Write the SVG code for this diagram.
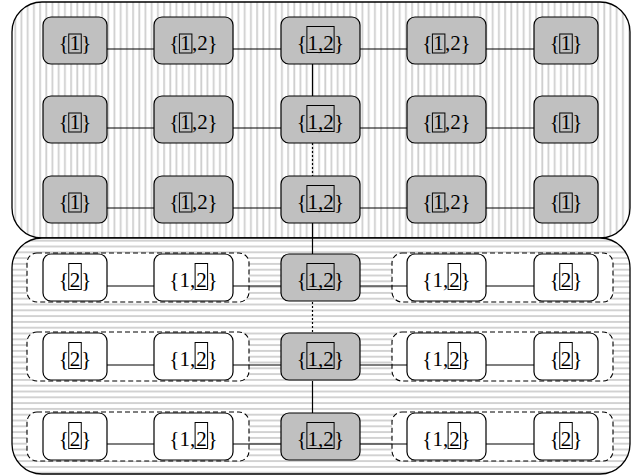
<svg xmlns="http://www.w3.org/2000/svg" width="643" height="476" viewBox="0 0 643 476">
<defs>
<pattern id="vl" patternUnits="userSpaceOnUse" width="6.2" height="10"><rect width="6.2" height="10" fill="#fff"/><rect x="2" width="1.8" height="10" fill="#cfcfcf"/></pattern>
<pattern id="hl" patternUnits="userSpaceOnUse" width="10" height="5.8"><rect width="10" height="5.8" fill="#fff"/><rect y="2" width="10" height="1.8" fill="#cfcfcf"/></pattern>
<style>
.ct{stroke:#000;stroke-width:1.3}
.n{stroke:#000;stroke-width:1.2}
.g{fill:#c0c0c0}
.w{fill:#fff}
.grp{fill:#fff;stroke:#000;stroke-width:1.1;stroke-dasharray:5,3}
.bx{fill:none;stroke:#000;stroke-width:1}
.t{font-family:"Liberation Serif","Times New Roman",serif;font-size:21px;fill:#000}
.m{text-anchor:middle}
.e{text-anchor:end}
.l{stroke:#000;stroke-width:1.2;fill:none}
.d{stroke-dasharray:2,2}
</style>
</defs>
<g id="containers">
<rect class="ct" x="12" y="2" width="618" height="236" rx="30" fill="url(#vl)"/>
<rect class="ct" x="12" y="238" width="618" height="236" rx="30" fill="url(#hl)"/>
</g>
<g id="groups">
<rect class="grp" x="27" y="253" width="222" height="49" rx="10"/>
<rect class="grp" x="392" y="253" width="221" height="49" rx="10"/>
<rect class="grp" x="27" y="332" width="222" height="49" rx="10"/>
<rect class="grp" x="392" y="332" width="221" height="49" rx="10"/>
<rect class="grp" x="27" y="412" width="222" height="49" rx="10"/>
<rect class="grp" x="392" y="412" width="221" height="49" rx="10"/>
</g>
<g id="connectors">
<path class="l" d="M107 49H154M233 49H281M360 49H407M486 49H534"/>
<path class="l" d="M107 128H154M233 128H281M360 128H407M486 128H534"/>
<path class="l" d="M107 208H154M233 208H281M360 208H407M486 208H534"/>
<path class="l" d="M107 286H154M233 286H281M360 286H407M486 286H534"/>
<path class="l" d="M107 365H154M233 365H281M360 365H407M486 365H534"/>
<path class="l" d="M107 444H154M233 444H281M360 444H407M486 444H534"/>
<path class="l" d="M312.5 64V96M312.5 223V254M312.5 381V413"/>
<path class="l d" d="M312.5 143V176M312.5 302V333"/>
</g>
<g id="r1c1"><rect class="n g" x="43" y="17" width="64" height="47" rx="8"/><rect class="bx" x="68.75" y="34" width="12.5" height="19"/><text class="t e" x="68.75" y="49.5">{</text><text class="t m" x="75" y="49.5">1</text><text class="t" x="81.25" y="49.5">}</text></g>
<g id="r1c2"><rect class="n g" x="154" y="17" width="79" height="47" rx="8"/><rect class="bx" x="179.4" y="34" width="12.5" height="19"/><text class="t" x="169.3" y="49.5">{</text><text class="t m" x="185.6" y="49.5">1</text><text class="t" x="191.9" y="49.5">,2</text><text class="t" x="207.6" y="49.5">}</text></g>
<g id="r1c3"><rect class="n g" x="281" y="17" width="79" height="47" rx="8"/><rect class="bx" x="306.9" y="26.5" width="27.2" height="26"/><text class="t" x="296.8" y="49.5">{</text><text class="t m" x="320.5" y="49.5">1,2</text><text class="t" x="334.1" y="49.5">}</text></g>
<g id="r1c4"><rect class="n g" x="407" y="17" width="79" height="47" rx="8"/><rect class="bx" x="432.4" y="34" width="12.5" height="19"/><text class="t" x="422.3" y="49.5">{</text><text class="t m" x="438.6" y="49.5">1</text><text class="t" x="444.9" y="49.5">,2</text><text class="t" x="460.6" y="49.5">}</text></g>
<g id="r1c5"><rect class="n g" x="534" y="17" width="64" height="47" rx="8"/><rect class="bx" x="559.75" y="34" width="12.5" height="19"/><text class="t e" x="559.75" y="49.5">{</text><text class="t m" x="566" y="49.5">1</text><text class="t" x="572.25" y="49.5">}</text></g>

<g id="r2c1"><rect class="n g" x="43" y="96" width="64" height="47" rx="8"/><rect class="bx" x="68.75" y="113" width="12.5" height="19"/><text class="t e" x="68.75" y="128.5">{</text><text class="t m" x="75" y="128.5">1</text><text class="t" x="81.25" y="128.5">}</text></g>
<g id="r2c2"><rect class="n g" x="154" y="96" width="79" height="47" rx="8"/><rect class="bx" x="179.4" y="113" width="12.5" height="19"/><text class="t" x="169.3" y="128.5">{</text><text class="t m" x="185.6" y="128.5">1</text><text class="t" x="191.9" y="128.5">,2</text><text class="t" x="207.6" y="128.5">}</text></g>
<g id="r2c3"><rect class="n g" x="281" y="96" width="79" height="47" rx="8"/><rect class="bx" x="306.9" y="105.5" width="27.2" height="26"/><text class="t" x="296.8" y="128.5">{</text><text class="t m" x="320.5" y="128.5">1,2</text><text class="t" x="334.1" y="128.5">}</text></g>
<g id="r2c4"><rect class="n g" x="407" y="96" width="79" height="47" rx="8"/><rect class="bx" x="432.4" y="113" width="12.5" height="19"/><text class="t" x="422.3" y="128.5">{</text><text class="t m" x="438.6" y="128.5">1</text><text class="t" x="444.9" y="128.5">,2</text><text class="t" x="460.6" y="128.5">}</text></g>
<g id="r2c5"><rect class="n g" x="534" y="96" width="64" height="47" rx="8"/><rect class="bx" x="559.75" y="113" width="12.5" height="19"/><text class="t e" x="559.75" y="128.5">{</text><text class="t m" x="566" y="128.5">1</text><text class="t" x="572.25" y="128.5">}</text></g>

<g id="r3c1"><rect class="n g" x="43" y="176" width="64" height="47" rx="8"/><rect class="bx" x="68.75" y="193" width="12.5" height="19"/><text class="t e" x="68.75" y="208.5">{</text><text class="t m" x="75" y="208.5">1</text><text class="t" x="81.25" y="208.5">}</text></g>
<g id="r3c2"><rect class="n g" x="154" y="176" width="79" height="47" rx="8"/><rect class="bx" x="179.4" y="193" width="12.5" height="19"/><text class="t" x="169.3" y="208.5">{</text><text class="t m" x="185.6" y="208.5">1</text><text class="t" x="191.9" y="208.5">,2</text><text class="t" x="207.6" y="208.5">}</text></g>
<g id="r3c3"><rect class="n g" x="281" y="176" width="79" height="47" rx="8"/><rect class="bx" x="306.9" y="185.5" width="27.2" height="26"/><text class="t" x="296.8" y="208.5">{</text><text class="t m" x="320.5" y="208.5">1,2</text><text class="t" x="334.1" y="208.5">}</text></g>
<g id="r3c4"><rect class="n g" x="407" y="176" width="79" height="47" rx="8"/><rect class="bx" x="432.4" y="193" width="12.5" height="19"/><text class="t" x="422.3" y="208.5">{</text><text class="t m" x="438.6" y="208.5">1</text><text class="t" x="444.9" y="208.5">,2</text><text class="t" x="460.6" y="208.5">}</text></g>
<g id="r3c5"><rect class="n g" x="534" y="176" width="64" height="47" rx="8"/><rect class="bx" x="559.75" y="193" width="12.5" height="19"/><text class="t e" x="559.75" y="208.5">{</text><text class="t m" x="566" y="208.5">1</text><text class="t" x="572.25" y="208.5">}</text></g>

<g id="r4c1"><rect class="n w" x="43" y="254" width="64" height="47" rx="8"/><rect class="bx" x="68.75" y="263.5" width="12.5" height="26"/><text class="t e" x="68.75" y="286.5">{</text><text class="t m" x="75" y="286.5">2</text><text class="t" x="81.25" y="286.5">}</text></g>
<g id="r4c2"><rect class="n w" x="154" y="254" width="79" height="47" rx="8"/><rect class="bx" x="195.1" y="263.5" width="12.5" height="26"/><text class="t" x="169.3" y="286.5">{1,</text><text class="t m" x="201.4" y="286.5">2</text><text class="t" x="207.6" y="286.5">}</text></g>
<g id="r4c3"><rect class="n g" x="281" y="254" width="79" height="47" rx="8"/><rect class="bx" x="306.9" y="263.5" width="27.2" height="26"/><text class="t" x="296.8" y="286.5">{</text><text class="t m" x="320.5" y="286.5">1,2</text><text class="t" x="334.1" y="286.5">}</text></g>
<g id="r4c4"><rect class="n w" x="407" y="254" width="79" height="47" rx="8"/><rect class="bx" x="448.1" y="263.5" width="12.5" height="26"/><text class="t" x="422.3" y="286.5">{1,</text><text class="t m" x="454.4" y="286.5">2</text><text class="t" x="460.6" y="286.5">}</text></g>
<g id="r4c5"><rect class="n w" x="534" y="254" width="64" height="47" rx="8"/><rect class="bx" x="559.75" y="263.5" width="12.5" height="26"/><text class="t e" x="559.75" y="286.5">{</text><text class="t m" x="566" y="286.5">2</text><text class="t" x="572.25" y="286.5">}</text></g>

<g id="r5c1"><rect class="n w" x="43" y="333" width="64" height="47" rx="8"/><rect class="bx" x="68.75" y="342.5" width="12.5" height="26"/><text class="t e" x="68.75" y="365.5">{</text><text class="t m" x="75" y="365.5">2</text><text class="t" x="81.25" y="365.5">}</text></g>
<g id="r5c2"><rect class="n w" x="154" y="333" width="79" height="47" rx="8"/><rect class="bx" x="195.1" y="342.5" width="12.5" height="26"/><text class="t" x="169.3" y="365.5">{1,</text><text class="t m" x="201.4" y="365.5">2</text><text class="t" x="207.6" y="365.5">}</text></g>
<g id="r5c3"><rect class="n g" x="281" y="333" width="79" height="47" rx="8"/><rect class="bx" x="306.9" y="342.5" width="27.2" height="26"/><text class="t" x="296.8" y="365.5">{</text><text class="t m" x="320.5" y="365.5">1,2</text><text class="t" x="334.1" y="365.5">}</text></g>
<g id="r5c4"><rect class="n w" x="407" y="333" width="79" height="47" rx="8"/><rect class="bx" x="448.1" y="342.5" width="12.5" height="26"/><text class="t" x="422.3" y="365.5">{1,</text><text class="t m" x="454.4" y="365.5">2</text><text class="t" x="460.6" y="365.5">}</text></g>
<g id="r5c5"><rect class="n w" x="534" y="333" width="64" height="47" rx="8"/><rect class="bx" x="559.75" y="342.5" width="12.5" height="26"/><text class="t e" x="559.75" y="365.5">{</text><text class="t m" x="566" y="365.5">2</text><text class="t" x="572.25" y="365.5">}</text></g>

<g id="r6c1"><rect class="n w" x="43" y="413" width="64" height="47" rx="8"/><rect class="bx" x="68.75" y="422.5" width="12.5" height="26"/><text class="t e" x="68.75" y="445.5">{</text><text class="t m" x="75" y="445.5">2</text><text class="t" x="81.25" y="445.5">}</text></g>
<g id="r6c2"><rect class="n w" x="154" y="413" width="79" height="47" rx="8"/><rect class="bx" x="195.1" y="422.5" width="12.5" height="26"/><text class="t" x="169.3" y="445.5">{1,</text><text class="t m" x="201.4" y="445.5">2</text><text class="t" x="207.6" y="445.5">}</text></g>
<g id="r6c3"><rect class="n g" x="281" y="413" width="79" height="47" rx="8"/><rect class="bx" x="306.9" y="422.5" width="27.2" height="26"/><text class="t" x="296.8" y="445.5">{</text><text class="t m" x="320.5" y="445.5">1,2</text><text class="t" x="334.1" y="445.5">}</text></g>
<g id="r6c4"><rect class="n w" x="407" y="413" width="79" height="47" rx="8"/><rect class="bx" x="448.1" y="422.5" width="12.5" height="26"/><text class="t" x="422.3" y="445.5">{1,</text><text class="t m" x="454.4" y="445.5">2</text><text class="t" x="460.6" y="445.5">}</text></g>
<g id="r6c5"><rect class="n w" x="534" y="413" width="64" height="47" rx="8"/><rect class="bx" x="559.75" y="422.5" width="12.5" height="26"/><text class="t e" x="559.75" y="445.5">{</text><text class="t m" x="566" y="445.5">2</text><text class="t" x="572.25" y="445.5">}</text></g>
</svg>
